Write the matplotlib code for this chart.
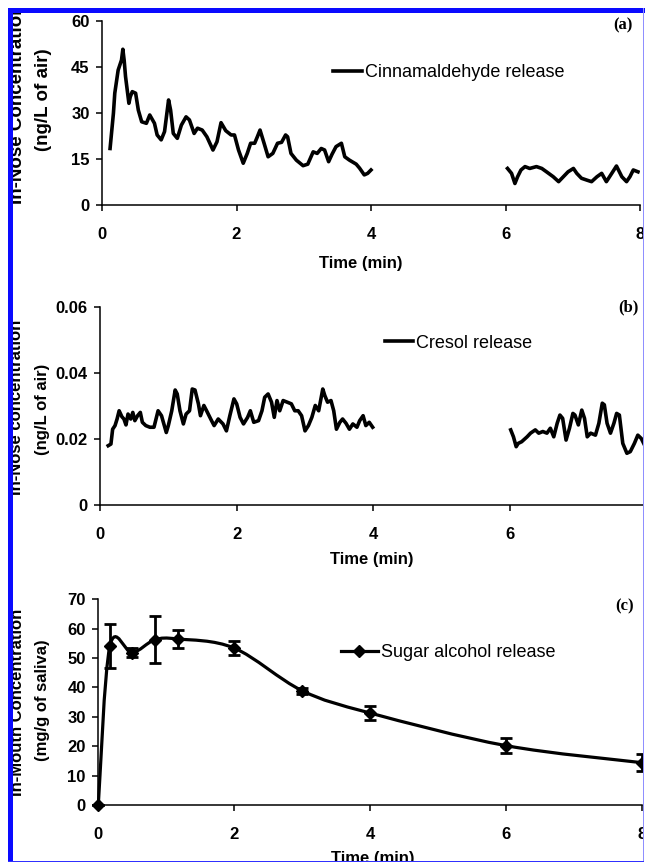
import matplotlib
matplotlib.use("Agg")
import matplotlib.pyplot as plt
import numpy as np
from matplotlib.path import Path
from matplotlib.patches import PathPatch, Rectangle
from matplotlib.lines import Line2D

# ---- data ----
# (a) cinnamaldehyde in nose (ng/L of air)
cinn_t1 = [0.12, 0.17, 0.19, 0.24, 0.29, 0.31, 0.33, 0.35, 0.40, 0.42, 0.45, 0.50, 0.54, 0.59,
           0.66, 0.71, 0.78, 0.82, 0.88, 0.93, 0.99, 1.02, 1.06, 1.12, 1.18, 1.25, 1.30, 1.37,
           1.42, 1.49, 1.56, 1.65, 1.71, 1.77, 1.84, 1.92, 1.97, 2.03, 2.10, 2.16, 2.21, 2.27,
           2.31, 2.35, 2.41, 2.47, 2.54, 2.61, 2.67, 2.73, 2.76, 2.81, 2.89, 2.99, 3.06, 3.14,
           3.20, 3.26, 3.31, 3.37, 3.42, 3.48, 3.56, 3.61, 3.68, 3.78, 3.83, 3.90, 3.95, 4.00]
cinn_c1 = [18.4, 29.9, 36.4, 43.9, 47.2, 50.7, 47.0, 41.8, 33.1, 35.2, 36.9, 36.4, 30.9, 27.1,
           26.6, 29.3, 26.6, 22.8, 21.2, 23.9, 34.2, 30.9, 23.3, 21.7, 26.0, 28.7, 27.7, 23.3,
           25.0, 24.4, 22.2, 17.9, 20.6, 26.8, 24.2, 22.8, 22.8, 17.9, 13.6, 16.8, 20.1, 20.1,
           22.2, 24.4, 20.1, 15.7, 16.8, 20.1, 20.4, 22.8, 22.2, 16.8, 14.6, 12.8, 13.3, 17.3,
           16.8, 18.4, 17.9, 14.1, 16.5, 19.0, 20.1, 15.7, 14.6, 13.3, 12.0, 9.8, 10.3, 11.4]
cinn_t2 = [6.03, 6.09, 6.14, 6.18, 6.23, 6.29, 6.36, 6.46, 6.54, 6.61, 6.71, 6.79, 6.86, 6.93,
           7.01, 7.06, 7.13, 7.21, 7.28, 7.36, 7.43, 7.50, 7.58, 7.65, 7.73, 7.80, 7.85, 7.90, 7.97]
cinn_c2 = [11.9, 10.3, 7.0, 9.2, 11.4, 12.5, 11.9, 12.5, 11.9, 10.8, 9.2, 7.6, 9.2, 10.8,
           11.9, 10.3, 8.7, 8.1, 7.6, 9.2, 10.3, 7.6, 10.3, 12.7, 9.2, 7.6, 9.2, 11.4, 10.8]

# (b) cresol in nose (ng/L of air)
cres_t1 = [0.12, 0.16, 0.185, 0.22, 0.25, 0.28, 0.32, 0.35, 0.38, 0.41, 0.45, 0.48, 0.51, 0.55,
           0.59, 0.62, 0.67, 0.73, 0.79, 0.85, 0.90, 0.97, 1.00, 1.05, 1.10, 1.13, 1.17, 1.22,
           1.26, 1.31, 1.35, 1.39, 1.44, 1.47, 1.52, 1.56, 1.62, 1.67, 1.73, 1.80, 1.85, 1.90,
           1.96, 2.00, 2.05, 2.10, 2.16, 2.20, 2.25, 2.32, 2.37, 2.41, 2.46, 2.51, 2.55, 2.59,
           2.63, 2.68, 2.74, 2.80, 2.85, 2.90, 2.95, 3.00, 3.05, 3.10, 3.15, 3.20, 3.26, 3.29,
           3.33, 3.38, 3.42, 3.46, 3.51, 3.55, 3.60, 3.65, 3.70, 3.76, 3.80, 3.85, 3.89, 3.94, 3.99]
cres_c1 = [0.0180, 0.0185, 0.0230, 0.0241, 0.0261, 0.0286, 0.0268, 0.0261, 0.0243, 0.0276,
           0.0261, 0.0281, 0.0256, 0.0271, 0.0281, 0.0251, 0.0241, 0.0236, 0.0236, 0.0286,
           0.0271, 0.0220, 0.0241, 0.0286, 0.0349, 0.0337, 0.0286, 0.0246, 0.0276, 0.0286,
           0.0352, 0.0349, 0.0307, 0.0271, 0.0302, 0.0286, 0.0261, 0.0241, 0.0261, 0.0246,
           0.0225, 0.0271, 0.0322, 0.0307, 0.0266, 0.0246, 0.0266, 0.0286, 0.0251, 0.0256,
           0.0286, 0.0327, 0.0337, 0.0312, 0.0266, 0.0317, 0.0286, 0.0317, 0.0312, 0.0307,
           0.0286, 0.0286, 0.0271, 0.0225, 0.0241, 0.0266, 0.0302, 0.0286, 0.0352, 0.0332,
           0.0312, 0.0317, 0.0286, 0.0230, 0.0251, 0.0261, 0.0248, 0.0230, 0.0246, 0.0236,
           0.0256, 0.0271, 0.0241, 0.0251, 0.0236]
cres_t2 = [6.01, 6.05, 6.09, 6.12, 6.17, 6.25, 6.30, 6.37, 6.42, 6.48, 6.54, 6.59, 6.64, 6.69,
           6.73, 6.77, 6.82, 6.87, 6.92, 6.95, 7.00, 7.05, 7.09, 7.13, 7.18, 7.25, 7.30, 7.35,
           7.38, 7.42, 7.47, 7.52, 7.56, 7.60, 7.65, 7.71, 7.76, 7.82, 7.87, 7.92, 7.98]
cres_c2 = [0.0228, 0.0207, 0.0177, 0.0187, 0.0192, 0.0207, 0.0218, 0.0228, 0.0218, 0.0223,
           0.0218, 0.0233, 0.0207, 0.0248, 0.0273, 0.0263, 0.0197, 0.0233, 0.0278, 0.0273,
           0.0243, 0.0288, 0.0263, 0.0207, 0.0218, 0.0212, 0.0248, 0.0309, 0.0304, 0.0248,
           0.0218, 0.0248, 0.0278, 0.0273, 0.0187, 0.0157, 0.0162, 0.0187, 0.0212, 0.0202, 0.0177]

# (c) sugar alcohol in mouth (mg/g of saliva)
sug_t = [0, 0.17, 0.5, 0.83, 1.17, 2, 3, 4, 6, 8]
sug_c = [0, 54.0, 51.8, 56.2, 56.5, 53.4, 38.9, 31.3, 20.2, 14.4]
sug_err = [0, 7.5, 1.5, 8.0, 3.0, 2.5, 1.0, 2.5, 2.5, 2.8]

# ---- layout helpers (pixels of the 645x863 picture) ----
W, H = 645.0, 863.0
def fx(px):
    return px / W
def fy(py):
    return 1 - py / H
def box(l, r, t, b):
    return [fx(l), fy(b), (r - l) / W, (b - t) / H]

plt.rcParams['font.family'] = 'Liberation Sans'
fig = plt.figure(figsize=(6.45, 8.63), dpi=100)

tickfont = dict(size=12, weight='bold')

def style(ax, ymax, yticks, yfmt):
    for s in ['top', 'right']:
        ax.spines[s].set_visible(False)
    for s in ['left', 'bottom']:
        ax.spines[s].set_linewidth(1.1)
    ax.set_xlim(0, 8)
    ax.set_ylim(0, ymax)
    ax.set_xticks([0, 2, 4, 6, 8])
    ax.set_yticks(yticks)
    ax.set_yticklabels([yfmt(v) for v in yticks])
    ax.tick_params(axis='both', direction='out', length=4, width=1.1, labelsize=12)
    ax.tick_params(axis='x', pad=11.5)
    ax.tick_params(axis='y', pad=5)
    for lab in ax.get_xticklabels() + ax.get_yticklabels():
        lab.set_fontweight('bold')
    ax.patch.set_visible(False)

# ---- (a) ----
ax1 = fig.add_axes(box(102, 640, 20.7, 205))
ax1.plot(cinn_t1, cinn_c1, color='k', lw=2.6, solid_joinstyle='round', label='Cinnamaldehyde release')
ax1.plot(cinn_t2, cinn_c2, color='k', lw=2.6, solid_joinstyle='round')
style(ax1, 60, [0, 15, 30, 45, 60], lambda v: '%d' % v)
ax1.legend(loc='center left', bbox_to_anchor=(0.4294, 0.718), frameon=False, borderpad=0,
           borderaxespad=0, handlelength=1.6, handletextpad=0.17, prop=dict(size=13))
ax1.set_xlabel('Time (min)', fontsize=12, fontweight='bold', va='center')
ax1.xaxis.set_label_coords(0.481, -0.315)
fig.text(fx(623), fy(25), '(a)', family='Liberation Serif', weight='bold', size=12, ha='center', va='center')
fig.text(fx(18), fy(104), 'In-Nose Concentration', rotation=90, size=13.5, weight='bold', ha='center', va='center')
fig.text(fx(43), fy(100), '(ng/L of air)', rotation=90, size=13.5, weight='bold', ha='center', va='center')

# ---- (b) ----
ax2 = fig.add_axes(box(100, 646.7, 307.3, 505))
ax2.plot(cres_t1, cres_c1, color='k', lw=2.6, solid_joinstyle='round', label='Cresol release')
ax2.plot(cres_t2, cres_c2, color='k', lw=2.6, solid_joinstyle='round')
style(ax2, 0.06, [0, 0.02, 0.04, 0.06], lambda v: '0' if v == 0 else '%.2f' % v)
ax2.legend(loc='center left', bbox_to_anchor=(0.521, 0.819), frameon=False, borderpad=0,
           borderaxespad=0, handlelength=1.55, handletextpad=0.17, prop=dict(size=13))
ax2.set_xlabel('Time (min)', fontsize=12, fontweight='bold', va='center')
ax2.xaxis.set_label_coords(0.497, -0.278)
fig.text(fx(628), fy(307), '(b)', family='Liberation Serif', weight='bold', size=12, ha='center', va='center')
fig.text(fx(17), fy(407), 'In-Nose concentration', rotation=90, size=12, weight='bold', ha='center', va='center')
fig.text(fx(42), fy(409), '(ng/L of air)', rotation=90, size=12, weight='bold', ha='center', va='center')

# ---- (c) ----
ax3 = fig.add_axes(box(98.3, 642, 599.3, 805))
# smooth (excel style) line through the measured points
pts = np.column_stack([sug_t, sug_c])
verts = [pts[0]]
codes = [Path.MOVETO]
for i in range(len(pts) - 1):
    p0 = pts[i - 1] if i > 0 else pts[i]
    p1 = pts[i]
    p2 = pts[i + 1]
    p3 = pts[i + 2] if i + 2 < len(pts) else pts[i + 1]
    verts += [p1 + (p2 - p0) / 6, p2 - (p3 - p1) / 6, p2]
    codes += [Path.CURVE4] * 3
ax3.add_patch(PathPatch(Path(verts, codes), fill=False, lw=2.3, edgecolor='k', capstyle='round', clip_on=False))
ax3.errorbar(sug_t, sug_c, yerr=sug_err, fmt='D', color='k', ms=6.5, elinewidth=2, capsize=4.5,
             capthick=2, clip_on=False, zorder=3)
style(ax3, 70, [0, 10, 20, 30, 40, 50, 60, 70], lambda v: '%d' % v)
h = Line2D([], [], color='k', lw=2.3, marker='D', ms=6.5)
ax3.legend([h], ['Sugar alcohol release'], loc='center left', bbox_to_anchor=(0.446, 0.739),
           frameon=False, borderpad=0, borderaxespad=0, handlelength=2.05, handletextpad=0.17,
           numpoints=1, prop=dict(size=13))
ax3.set_xlabel('Time (min)', fontsize=12, fontweight='bold', va='center')
ax3.xaxis.set_label_coords(0.505, -0.258)
fig.text(fx(625), fy(606), '(c)', family='Liberation Serif', weight='bold', size=12, ha='center', va='center')
fig.text(fx(18), fy(702), 'In-Mouth Concentration', rotation=90, size=12, weight='bold', ha='center', va='center')
fig.text(fx(42), fy(700), '(mg/g of saliva)', rotation=90, size=12, weight='bold', ha='center', va='center')

# ---- blue frame around the crop, drawn on top ----
def rect(l, r, t, b, c):
    fig.add_artist(Rectangle((fx(l), fy(b)), (r - l) / W, (b - t) / H, transform=fig.transFigure,
                             facecolor=c, edgecolor='none', zorder=20))
rect(0, W, 0, 8, 'white')
rect(0, 8, 0, H, 'white')
rect(0, W, 862, H, 'white')
rect(644, W, 0, H, 'white')
rect(8, W, 8, 13, '#0a0aff')
rect(8, 12.5, 8, 862, '#0a0aff')
rect(642.5, 644, 8, 862, '#8f8fff')
rect(8, 644, 860.5, 862, '#3030ff')

fig.savefig('out.png', dpi=100)
